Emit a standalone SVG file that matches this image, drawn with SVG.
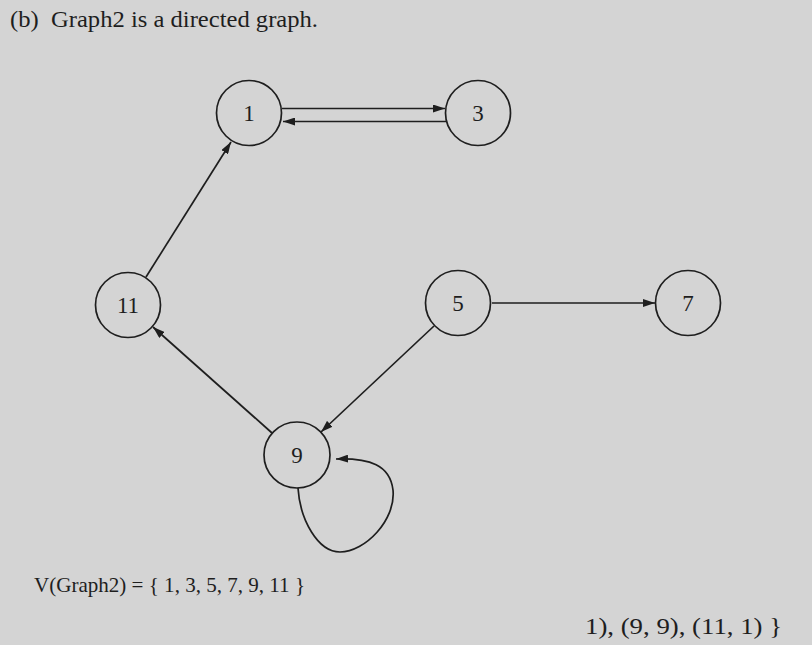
<svg xmlns="http://www.w3.org/2000/svg" width="812" height="645" viewBox="0 0 812 645">
<style>
.t{font-family:"Liberation Serif","Times New Roman",serif;fill:#1e1e1e}
.n circle{fill:none;stroke:#1e1e1e;stroke-width:1.7}
.n text{font-family:"Liberation Serif","Times New Roman",serif;font-size:23px;fill:#1e1e1e;text-anchor:middle}
.e{fill:none;stroke:#1e1e1e;stroke-width:1.7;marker-end:url(#ah)}
</style>
<defs>
<marker id="ah" viewBox="0 0 12 8" refX="12" refY="4" markerWidth="12" markerHeight="8" markerUnits="userSpaceOnUse" orient="auto">
<path d="M0,0 L12,4 L0,8 Z" fill="#1e1e1e"/>
</marker>
</defs>
<rect width="812" height="645" fill="#d4d4d4"/>
<text class="t" x="10" y="27" font-size="23.5" textLength="308" lengthAdjust="spacingAndGlyphs" xml:space="preserve">(b)  Graph2 is a directed graph.</text>
<g id="connectors">
<line class="e" x1="282" y1="108.5" x2="445" y2="108.5"/>
<line class="e" x1="446" y1="121.5" x2="283" y2="121.5"/>
<line class="e" x1="492" y1="303" x2="655" y2="303"/>
<line class="e" x1="146" y1="277" x2="231" y2="142"/>
<line class="e" x1="272" y1="433" x2="153" y2="327"/>
<line class="e" x1="434" y1="326" x2="321" y2="432"/>
<path class="e" d="M298,488 C300,520 318,552 340,552 C365,552 396,520 393,490 C390,465 370,458 336,459"/>
</g>
<g id="node1" class="n"><circle cx="249" cy="113" r="32.5"/><text x="249" y="121">1</text></g>
<g id="node3" class="n"><circle cx="478" cy="113" r="32.5"/><text x="478" y="121">3</text></g>
<g id="node11" class="n"><circle cx="128" cy="305" r="32.5"/><text x="128" y="313">11</text></g>
<g id="node5" class="n"><circle cx="458" cy="303" r="32.5"/><text x="458" y="311">5</text></g>
<g id="node7" class="n"><circle cx="688" cy="303" r="32.5"/><text x="688" y="311">7</text></g>
<g id="node9" class="n"><circle cx="297" cy="455" r="33"/><text x="297" y="463">9</text></g>
<text class="t" x="34" y="592" font-size="22" textLength="271" lengthAdjust="spacingAndGlyphs">V(Graph2) = { 1, 3, 5, 7, 9, 11 }</text>
<text class="t" x="585" y="634" font-size="23" textLength="197" lengthAdjust="spacingAndGlyphs">1), (9, 9), (11, 1) }</text>
</svg>
